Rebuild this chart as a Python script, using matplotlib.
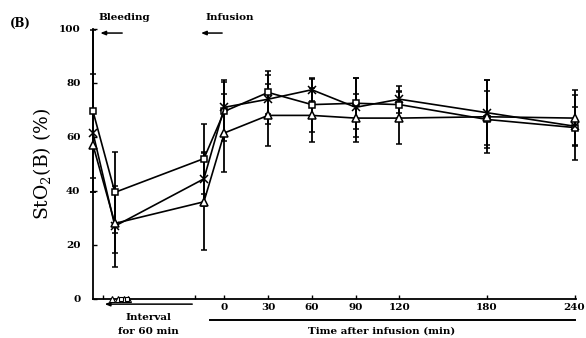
import matplotlib
matplotlib.use("Agg")
import matplotlib.pyplot as plt

# Sampling positions: baseline, after bleeding, before infusion, then minutes after infusion
time_x = [-90, -75, -14, 0, 30, 60, 90, 120, 180, 240]

square_vals = [69.5, 39.5, 52.0, 69.5, 76.5, 72.0, 72.5, 72.0, 66.5, 63.5]
square_err = [30.0, 15.0, 13.0, 11.0, 8.0, 10.0, 9.5, 5.0, 10.5, 12.0]

cross_vals = [61.5, 27.0, 44.5, 71.0, 74.0, 77.5, 71.0, 74.0, 69.0, 64.0]
cross_err = [22.0, 15.0, 10.0, 10.0, 9.0, 4.0, 11.0, 5.0, 12.0, 7.0]

tri_vals = [57.0, 28.0, 36.0, 61.5, 68.0, 68.0, 67.0, 67.0, 67.5, 67.0]
tri_err = [12.0, 11.0, 18.0, 14.5, 11.5, 10.0, 9.0, 9.5, 13.5, 10.5]

xtick_vals = [0, 30, 60, 90, 120, 180, 240]
xtick_labels = ["0", "30", "60", "90", "120", "180", "240"]
ytick_vals = [0, 20, 40, 60, 80, 100]

SERIF = ["DejaVu Serif"]
plt.rcParams["font.family"] = SERIF
plt.rcParams["mathtext.fontset"] = "dejavuserif"

fig = plt.figure(figsize=(5.86, 3.38), dpi=100)
ax = fig.add_axes([93 / 586, 1 - 299 / 338, 483 / 586, 270 / 338])

series = [
    (square_vals, square_err, "s", 5.0),
    (cross_vals, cross_err, "x", 5.5),
    (tri_vals, tri_err, "^", 5.5),
]
for vals, err, mk, ms in series:
    ax.errorbar(time_x, vals, yerr=err, color="black", lw=1.2,
                elinewidth=1.3, capsize=2.5, capthick=1.2,
                marker=mk, ms=ms, mfc="white", mec="black", mew=1.1,
                clip_on=False, zorder=3)

ax.set_xlim(-90, 241)
ax.set_ylim(0, 100)

for side in ("top", "right"):
    ax.spines[side].set_visible(False)
for side in ("left", "bottom"):
    ax.spines[side].set_linewidth(1.3)

ax.set_xticks(xtick_vals)
ax.set_xticklabels(xtick_labels)
ax.set_xticks([-83, -20], minor=True)
ax.set_yticks(ytick_vals)
ax.tick_params(axis="x", which="both", direction="in", length=3, width=1,
               pad=3, labelsize=7.5)
ax.tick_params(axis="y", direction="in", length=3, width=1, pad=9,
               labelsize=7.5)
for lab in ax.get_xticklabels() + ax.get_yticklabels():
    lab.set_fontweight("bold")

ax.set_ylabel(r"StO$_2$(B) (%)", fontsize=13.5, labelpad=4)

mixed = ("data", "axes fraction")
arrow_kw = dict(arrowstyle="-|>,head_length=0.3,head_width=0.12",
                color="black", lw=1.1, shrinkA=0, shrinkB=0)
xt = ax.get_xaxis_transform()

# Phase headers above the plot
ax.annotate("", xy=(-85, 0.985), xytext=(-70, 0.985), xycoords=mixed,
            textcoords=mixed, arrowprops=arrow_kw, annotation_clip=False)
ax.annotate("", xy=(-16, 0.985), xytext=(-1.5, 0.985), xycoords=mixed,
            textcoords=mixed, arrowprops=arrow_kw, annotation_clip=False)
ax.text(-68.5, 1.044, "Bleeding", transform=xt,
        ha="center", va="center", fontsize=7.5, fontweight="bold")
ax.text(4, 1.044, "Infusion", transform=xt,
        ha="center", va="center", fontsize=7.5, fontweight="bold")
fig.text(20 / 586, 1 - 23 / 338, "(B)", ha="center", va="center",
         fontsize=8.5, fontweight="bold")

# Axis break marks on the baseline
ax.plot([-77, -73, -69, -66], [0, 0, 0, 0], ls="none", marker="^",
        ms=4, mfc="white", mec="black", mew=0.8, clip_on=False, zorder=4)
ax.plot([-71, -67], [0, 0], ls="none", marker="s", ms=3.5,
        mfc="white", mec="black", mew=0.8, clip_on=False, zorder=4)

# Interval annotation under the axis
ax.annotate("", xy=(-82, -0.019), xytext=(-22, -0.019), xycoords=mixed,
            textcoords=mixed, arrowprops=arrow_kw, annotation_clip=False)
ax.text(-52, -0.067, "Interval", transform=xt,
        ha="center", va="center", fontsize=7.5, fontweight="bold")
ax.text(-52, -0.122, "for 60 min", transform=xt,
        ha="center", va="center", fontsize=7.5, fontweight="bold")

# Time-after-infusion bracket
ax.plot([-10, 240.5], [-0.078, -0.078], color="black", lw=1.4,
        transform=xt, clip_on=False)
ax.text(108, -0.119, "Time after infusion (min)", transform=xt,
        ha="center", va="center", fontsize=7.5, fontweight="bold")

fig.savefig("out.png", dpi=100)
